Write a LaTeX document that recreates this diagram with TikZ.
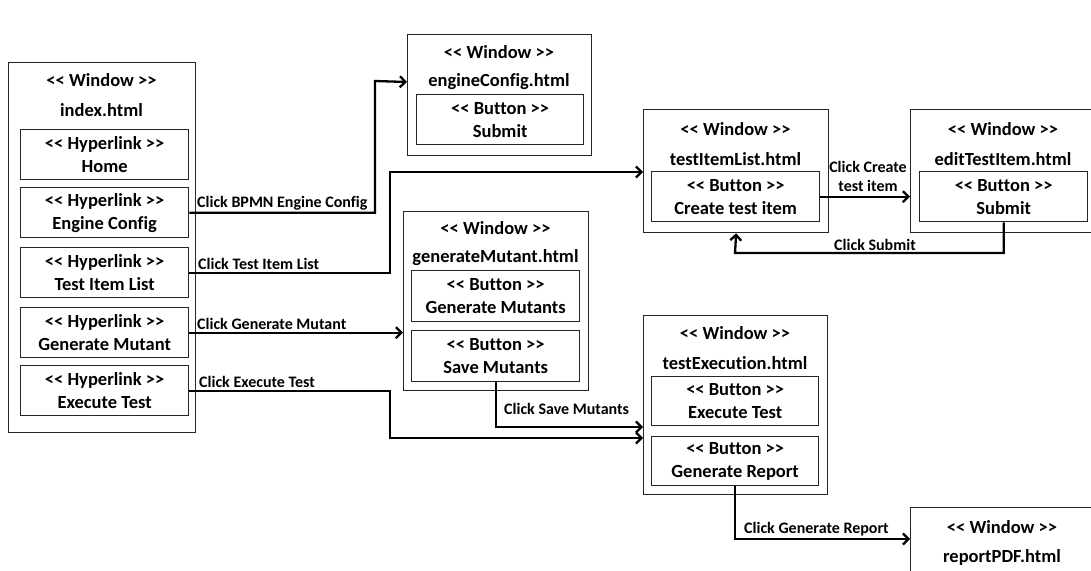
\documentclass[tikz,border=0pt]{standalone}
\usepackage{fontspec}
\setmainfont{Carlito}[Ligatures={NoCommon}]
\usetikzlibrary{arrows.meta}
\newcommand\stereo[1]{<{}< #1 >{}>}
\tikzset{
  frame/.style={draw=black!85, line width=1.3pt, anchor=north west, inner sep=0pt},
  btnbox/.style={frame, align=center, font=\bfseries\fontsize{18.5}{23}\selectfont},
  title/.style={font=\bfseries\fontsize{18.5}{20}\selectfont, inner sep=0pt},
  lbl/.style={font=\bfseries\fontsize{16}{20}\selectfont, inner sep=0pt, align=center},
  arr/.style={line width=2.3pt, -{Straight Barb[length=5.5pt,width=11pt]}},
}
\begin{document}
\begin{tikzpicture}[x=1pt,y=-1pt]
\useasboundingbox (0,0) rectangle (1091,570);
\clip (0,0) rectangle (1091,570);

% index.html
\node[frame, minimum width=187, minimum height=370] (index) at (8,62) {};
\node[title] (indexT1) at (101.5,80) {\stereo{Window}};
\node[title] (indexT2) at (101.5,110) {index.html};
\node[btnbox, minimum width=168, minimum height=50] (home) at (20,129) {\stereo{Hyperlink}\\Home};
\node[btnbox, minimum width=168, minimum height=50] (ec) at (20,187) {\stereo{Hyperlink}\\Engine Config};
\node[btnbox, minimum width=168, minimum height=50] (til) at (20,247) {\stereo{Hyperlink}\\Test Item List};
\node[btnbox, minimum width=168, minimum height=50] (gm) at (20,307) {\stereo{Hyperlink}\\Generate Mutant};
\node[btnbox, minimum width=168, minimum height=50] (et) at (20,365) {\stereo{Hyperlink}\\Execute Test};

% engineConfig.html
\node[frame, minimum width=184, minimum height=121] (engcfg) at (407,34) {};
\node[title] (engT1) at (499,52) {\stereo{Window}};
\node[title] (engT2) at (499,82) {engineConfig.html};
\node[btnbox, minimum width=167, minimum height=50] (engsub) at (416,94) {\stereo{Button}\\Submit};

% generateMutant.html
\node[frame, minimum width=185, minimum height=179] (genmut) at (403,211) {};
\node[title] (gmT1) at (495.5,228) {\stereo{Window}};
\node[title] (gmT2) at (495.5,258) {generateMutant.html};
\node[btnbox, minimum width=168, minimum height=51] (gms) at (411,270) {\stereo{Button}\\Generate Mutants};
\node[btnbox, minimum width=168, minimum height=51] (sm) at (411,330) {\stereo{Button}\\Save Mutants};

% testItemList.html
\node[frame, minimum width=185, minimum height=123] (tilw) at (643,109) {};
\node[title] (tilT1) at (735.5,129) {\stereo{Window}};
\node[title] (tilT2) at (735.5,159) {testItemList.html};
\node[btnbox, minimum width=168, minimum height=50] (cti) at (651,171) {\stereo{Button}\\Create test item};

% editTestItem.html
\node[frame, minimum width=185, minimum height=123] (edw) at (910,109) {};
\node[title] (edT1) at (1003,129) {\stereo{Window}};
\node[title] (edT2) at (1003,159) {editTestItem.html};
\node[btnbox, minimum width=168, minimum height=50] (edsub) at (919,171) {\stereo{Button}\\Submit};

% testExecution.html
\node[frame, minimum width=184, minimum height=179] (texw) at (643,315) {};
\node[title] (teT1) at (735,333) {\stereo{Window}};
\node[title] (teT2) at (735,363) {testExecution.html};
\node[btnbox, minimum width=167, minimum height=49] (ext) at (651,376) {\stereo{Button}\\Execute Test};
\node[btnbox, minimum width=167, minimum height=49] (gr) at (651,436) {\stereo{Button}\\Generate Report};

% reportPDF.html
\node[frame, minimum width=185, minimum height=90] (rpw) at (910,507) {};
\node[title] (rpT1) at (1002,527) {\stereo{Window}};
\node[title] (rpT2) at (1002,557) {reportPDF.html};

% navigation connectors
\draw[arr] (ec.east) -| (375,81) -- (engcfg.west |- engT2);
\draw[arr] (til.east) -| (390,172) -- (tilw.west |- 0,172);
\draw[arr] (gm.east) -- (genmut.west |- gm.east);
\draw[arr] (et.east) -| (390,438) -- (texw.west |- 0,438);
\draw[arr] (sm.south) |- (texw.west |- 0,427);
\draw[arr] (cti.east) -- (edw.west |- cti.east);
\draw[arr] (edsub.south) |- (735,253) -- (tilw.south);
\draw[arr] (gr.south) |- (rpw.west |- 0,539);

% connector labels
\node[lbl, anchor=west] (l1) at (197,203) {Click BPMN Engine Config};
\node[lbl, anchor=west] (l2) at (198,264) {Click Test Item List};
\node[lbl, anchor=west] (l3) at (197,324) {Click Generate Mutant};
\node[lbl, anchor=west] (l4) at (199,382) {Click Execute Test};
\node[lbl, anchor=west] (l5) at (504,409) {Click Save Mutants};
\node[lbl, font=\bfseries\fontsize{16}{19}\selectfont] (l6) at (868,176) {Click Create\\test item};
\node[lbl] (l7) at (875,245) {Click Submit};
\node[lbl, anchor=west] (l8) at (744,529) {Click Generate Report};
\end{tikzpicture}
\end{document}
